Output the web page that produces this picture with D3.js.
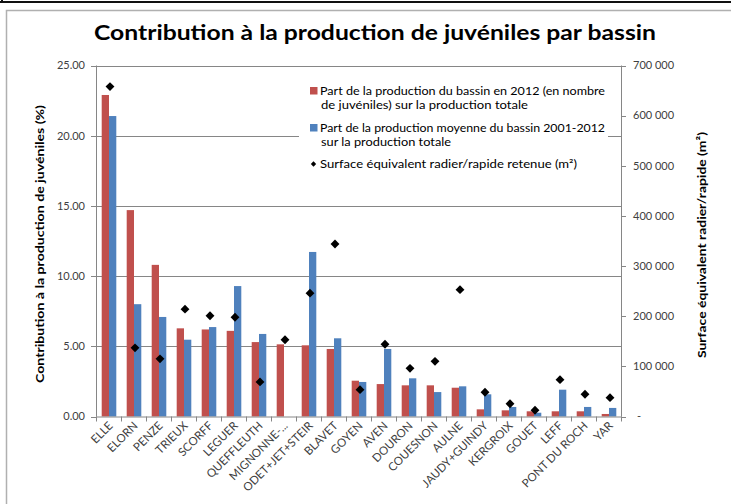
<!DOCTYPE html>
<html>
<head>
<meta charset="utf-8">
<script src="https://cdn.jsdelivr.net/npm/d3@7"></script>
<style>
  body { margin: 0; background: #fff; }
  svg { display: block; font-family: Lato, "Open Sans", sans-serif; }
</style>
</head>
<body>
<div id="chart"></div>
<script>
// bassins, dans l'ordre du graphique
var bassins = ["ELLE", "ELORN", "PENZE", "TRIEUX", "SCORFF", "LEGUER", "QUEFFLEUTH",
  "MIGNONNE-...", "ODET+JET+STEIR", "BLAVET", "GOYEN", "AVEN", "DOURON", "COUESNON",
  "AULNE", "JAUDY+GUINDY", "KERGROIX", "GOUET", "LEFF", "PONT DU ROCH", "YAR"];

// part de la production 2012 (%)
var part2012 = [22.9, 14.7, 10.8, 6.28, 6.2, 6.1, 5.3, 5.14, 5.07, 4.81, 2.55,
  2.31, 2.22, 2.22, 2.05, 0.51, 0.44, 0.37, 0.37, 0.37, 0.18];

// part de la production moyenne 2001-2012 (%)
var partMoy = [21.4, 8.0, 7.09, 5.47, 6.37, 9.29, 5.88, 0, 11.72, 5.57, 2.46,
  4.81, 2.72, 1.74, 2.15, 1.58, 0.68, 0.27, 1.91, 0.68, 0.61];

// surface equivalent radier/rapide (m2)
var surface = [658000, 137000, 115000, 214000, 201000, 198000, 69000, 153000,
  246000, 344000, 53500, 144000, 96000, 110000, 253000, 48300, 25500, 12400,
  73400, 44300, 37500];

var leftTicks = [0, 5, 10, 15, 20, 25];
var rightTicks = [0, 100000, 200000, 300000, 400000, 500000, 600000, 700000];

var W = 731, H = 504;
// note: "top" est reserve par window, d'ou les noms pL/pR/pT/pB
var pL = 96, pR = 621, pT = 65.5, pB = 416.5;
var red = "#C0504D", blue = "#4F81BD", grid = "#868686", txt = "#404040";

var svg = d3.select("#chart").append("svg")
  .attr("width", W).attr("height", H);

// cadres
svg.append("line").attr("x1", 0).attr("x2", W).attr("y1", 2).attr("y2", 2)
  .attr("stroke", "#111").attr("stroke-width", 2);
svg.append("line").attr("x1", 2).attr("x2", 2).attr("y1", 0).attr("y2", 3)
  .attr("stroke", "#111").attr("stroke-width", 2);
svg.append("path").attr("d", "M6.5," + H + "V10.5H" + W)
  .attr("fill", "none").attr("stroke", "#b0b0b0").attr("stroke-width", 1.5);

var x = d3.scaleBand().domain(bassins).range([pL, pR]);
var y = d3.scaleLinear().domain([0, 25]).range([pB, pT]);
var y2 = d3.scaleLinear().domain([0, 700000]).range([pB, pT]);

// grille
svg.append("g").selectAll("line").data(leftTicks.slice(1)).enter().append("line")
  .attr("x1", pL).attr("x2", pR)
  .attr("y1", function(d){ return Math.round(y(d)) + 0.5; })
  .attr("y2", function(d){ return Math.round(y(d)) + 0.5; })
  .attr("stroke", grid).attr("stroke-width", 1);

// barres
var bw = 7.3;
var bars = svg.append("g");
bars.selectAll(".r").data(part2012).enter().append("rect")
  .attr("x", function(d, i){ return x(bassins[i]) + x.bandwidth() / 2 + 0.5 - bw; })
  .attr("width", bw)
  .attr("y", function(d){ return y(d); })
  .attr("height", function(d){ return pB - y(d); })
  .attr("fill", red);
bars.selectAll(".b").data(partMoy).enter().append("rect")
  .attr("x", function(d, i){ return x(bassins[i]) + x.bandwidth() / 2 + 0.5; })
  .attr("width", bw)
  .attr("y", function(d){ return y(d); })
  .attr("height", function(d){ return pB - y(d); })
  .attr("fill", blue);

// losanges
var diamond = d3.symbol().type(d3.symbolDiamond2).size(50);
svg.append("g").selectAll("path").data(surface).enter().append("path")
  .attr("d", diamond)
  .attr("transform", function(d, i){
    return "translate(" + (x(bassins[i]) + x.bandwidth() / 2 + 1.5) + "," + y2(d) + ")";
  })
  .attr("fill", "#000");

// axes
var ax = svg.append("g").attr("stroke", grid).attr("stroke-width", 1).attr("fill", "none");
ax.append("line").attr("x1", pL + 0.5).attr("x2", pL + 0.5).attr("y1", pT).attr("y2", pB);
ax.append("line").attr("x1", pR + 0.5).attr("x2", pR + 0.5).attr("y1", pT).attr("y2", pB);
ax.append("line").attr("x1", pL).attr("x2", pR + 1).attr("y1", pB + 0.5).attr("y2", pB + 0.5);
ax.selectAll(".tl").data(leftTicks).enter().append("line")
  .attr("x1", pL - 5).attr("x2", pL)
  .attr("y1", function(d){ return Math.round(y(d)) + 0.5; })
  .attr("y2", function(d){ return Math.round(y(d)) + 0.5; });
ax.selectAll(".tr").data(rightTicks).enter().append("line")
  .attr("x1", pR).attr("x2", pR + 5)
  .attr("y1", function(d){ return Math.round(y2(d)) + 0.5; })
  .attr("y2", function(d){ return Math.round(y2(d)) + 0.5; });
var bounds = bassins.map(function(b){ return x(b); }).concat([pR]);
ax.selectAll(".tx").data(bounds).enter().append("line")
  .attr("x1", function(d){ return Math.round(d) + 0.5; })
  .attr("x2", function(d){ return Math.round(d) + 0.5; })
  .attr("y1", pB).attr("y2", pB + 5);

// libelles des axes
svg.append("g").selectAll("text").data(leftTicks).enter().append("text")
  .attr("x", 85).attr("y", function(d){ return y(d); })
  .attr("dy", "0.35em").attr("text-anchor", "end")
  .attr("font-size", 11).attr("fill", txt)
  .text(function(d){ return d3.format(".2f")(d); });

var fmtSpace = function(d){
  if (d === 0) return "-";
  return d3.format(",")(d).replace(/,/g, " ");
};
svg.append("g").selectAll("text").data(rightTicks).enter().append("text")
  .attr("x", function(d){ return d === 0 ? 637 : 633; })
  .attr("y", function(d){ return y2(d); })
  .attr("dy", "0.35em")
  .attr("font-size", 11).attr("fill", txt)
  .text(fmtSpace);

svg.append("g").selectAll("text").data(bassins).enter().append("text")
  .attr("transform", function(d){
    return "translate(" + (x(d) + x.bandwidth() / 2 + 5) + "," + (pB + 10) + ") rotate(-45)";
  })
  .attr("text-anchor", "end")
  .attr("font-size", 11.5).attr("fill", txt)
  .text(function(d){ return d; });

// titres
svg.append("text").attr("x", 375).attr("y", 40)
  .attr("text-anchor", "middle").attr("font-size", 21).attr("font-weight", "bold")
  .attr("fill", "#000").attr("textLength", 562).attr("lengthAdjust", "spacingAndGlyphs")
  .text("Contribution à la production  de juvéniles par bassin");

svg.append("text")
  .attr("transform", "translate(44,244) rotate(-90)")
  .attr("text-anchor", "middle").attr("font-size", 12).attr("font-weight", "bold")
  .attr("fill", "#000").attr("textLength", 278).attr("lengthAdjust", "spacingAndGlyphs")
  .text("Contribution à la production de juvéniles (%)");

svg.append("text")
  .attr("transform", "translate(706,245) rotate(-90)")
  .attr("text-anchor", "middle").attr("font-size", 12).attr("font-weight", "bold")
  .attr("fill", "#000").attr("textLength", 226).attr("lengthAdjust", "spacingAndGlyphs")
  .text("Surface équivalent radier/rapide (m²)");

// legende
var lg = svg.append("g");
lg.append("rect").attr("x", 299).attr("y", 75).attr("width", 309).attr("height", 105)
  .attr("fill", "#fff");
var legendRows = [
  {t: "Part de la production du bassin en 2012 (en nombre", y: 91, w: 285},
  {t: "de juvéniles) sur la production totale", y: 105, w: 207},
  {t: "Part de la production moyenne du bassin 2001-2012", y: 128, w: 285},
  {t: "sur la production totale", y: 142, w: 130},
  {t: "Surface équivalent radier/rapide retenue (m²)", y: 164, w: 257}
];
lg.selectAll("text").data(legendRows).enter().append("text")
  .attr("x", function(d, i){ return (i === 1 || i === 3) ? 321 : 320; })
  .attr("y", function(d){ return d.y; }).attr("dy", "0.35em")
  .attr("font-size", 11).attr("fill", "#000")
  .attr("textLength", function(d){ return d.w; }).attr("lengthAdjust", "spacingAndGlyphs")
  .text(function(d){ return d.t; });
lg.append("rect").attr("x", 310).attr("y", 87).attr("width", 7.5).attr("height", 7.5).attr("fill", red);
lg.append("rect").attr("x", 310).attr("y", 124).attr("width", 7.5).attr("height", 7.5).attr("fill", blue);
lg.append("path").attr("d", d3.symbol().type(d3.symbolDiamond2).size(18))
  .attr("transform", "translate(313.5,164)").attr("fill", "#000");
</script>
</body>
</html>
